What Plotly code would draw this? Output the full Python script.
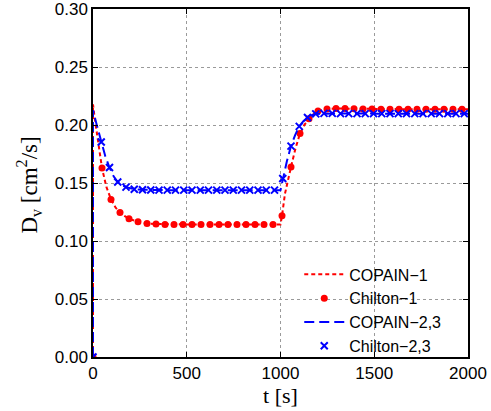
import plotly.graph_objects as go

# ---- data ----
copain1_t = [0, 0, 10, 18, 32, 48, 71, 96, 120, 144, 170, 192, 240, 288, 336, 400, 500, 1000,
             1008, 1024, 1042, 1056, 1080, 1104, 1128, 1152, 1176, 1200, 1248, 1296, 1400, 1500, 1700, 2000]
copain1_v = [0.0, 0.218, 0.205, 0.196, 0.180, 0.163, 0.147, 0.136, 0.129, 0.1247, 0.1215, 0.1193, 0.1167,
             0.1153, 0.1148, 0.1145, 0.1144, 0.1144,
             0.1218, 0.141, 0.155, 0.164, 0.180, 0.1928, 0.2005, 0.2055, 0.2095, 0.2123, 0.2140, 0.2144,
             0.2142, 0.2139, 0.2138, 0.2138]

chilton1_t = [0, 48, 96, 144, 192, 240, 288, 336, 384, 432, 480, 528, 576, 624, 672, 720, 768, 816, 864,
              912, 960, 1008, 1056, 1104, 1152, 1200, 1248, 1296, 1344, 1392, 1440, 1488, 1536, 1584,
              1632, 1680, 1728, 1776, 1824, 1872, 1920, 1968]
chilton1_v = [0.0, 0.163, 0.136, 0.1247, 0.1193, 0.1167, 0.1153, 0.1147, 0.1144, 0.1144, 0.1144, 0.1144,
              0.1144, 0.1144, 0.1144, 0.1144, 0.1144, 0.1144, 0.1144, 0.1144, 0.1144,
              0.1218, 0.164, 0.1928, 0.2055, 0.2123, 0.2140, 0.2144, 0.2144, 0.2142, 0.2140, 0.2139,
              0.2138, 0.2138, 0.2138, 0.2138, 0.2138, 0.2138, 0.2138, 0.2138, 0.2138, 0.2138]

copain23_t = [0, 0, 18, 44, 66, 88, 110, 132, 154, 176, 220, 264, 308, 400, 1000,
              1012, 1034, 1056, 1078, 1100, 1122, 1144, 1166, 1188, 1232, 1300, 1500, 2000]
copain23_v = [0.0, 0.213, 0.2014, 0.1856, 0.173, 0.1635, 0.156, 0.151, 0.1483, 0.1466, 0.1448, 0.1443,
              0.1441, 0.1440, 0.1440,
              0.1540, 0.1690, 0.1820, 0.1915, 0.1990, 0.2035, 0.2066, 0.2086, 0.2098, 0.2102, 0.2102,
              0.2100, 0.2100]

chilton23_t = [0, 44, 88, 132, 176, 220, 264, 308, 352, 396, 440, 484, 528, 572, 616, 660, 704, 748,
               792, 836, 880, 924, 968, 1012, 1056, 1100, 1144, 1188, 1232, 1276, 1320, 1364, 1408,
               1452, 1496, 1540, 1584, 1628, 1672, 1716, 1760, 1804, 1848, 1892, 1936, 1980]
chilton23_v = [0.0, 0.1856, 0.1635, 0.151, 0.1466, 0.1448, 0.1443, 0.1441,
               0.1440, 0.1440, 0.1440, 0.1440, 0.1440, 0.1440, 0.1440, 0.1440, 0.1440, 0.1440,
               0.1440, 0.1440, 0.1440, 0.1440, 0.1440,
               0.1540, 0.1820, 0.1990, 0.2066, 0.2098, 0.2102, 0.2102,
               0.2100, 0.2100, 0.2100, 0.2100, 0.2100, 0.2100, 0.2100, 0.2100, 0.2100, 0.2100,
               0.2100, 0.2100, 0.2100, 0.2100, 0.2100, 0.2100]

x_ticks = [0, 500, 1000, 1500, 2000]
y_ticks = [0.00, 0.05, 0.10, 0.15, 0.20, 0.25, 0.30]

RED = "#ff0000"
BLUE = "#0000ff"
SANS = "Liberation Sans, Arial, sans-serif"
SERIF = "Liberation Serif, Times New Roman, serif"

fig = go.Figure()
fig.add_trace(go.Scatter(x=copain1_t, y=copain1_v, mode="lines", name="COPAIN−1",
                         line=dict(color=RED, width=2, dash="4px,3px")))
fig.add_trace(go.Scatter(x=chilton1_t, y=chilton1_v, mode="markers", name="Chilton−1",
                         marker=dict(color=RED, size=7, symbol="circle")))
fig.add_trace(go.Scatter(x=copain23_t, y=copain23_v, mode="lines", name="COPAIN−2,3",
                         line=dict(color=BLUE, width=2, dash="10px,5px")))
fig.add_trace(go.Scatter(x=chilton23_t, y=chilton23_v, mode="markers", name="Chilton−2,3",
                         marker=dict(color=BLUE, size=7, symbol="x-thin-open",
                                     line=dict(color=BLUE, width=2))))

axis_common = dict(
    showline=True, linecolor="black", linewidth=1.5, mirror="allticks",
    ticks="inside", ticklen=5, tickwidth=1, tickcolor="black",
    showgrid=True, gridcolor="#9a9a9a", griddash="dot", gridwidth=1,
    zeroline=False, tickfont=dict(family=SANS, size=17, color="black"),
)

fig.update_xaxes(range=[0, 2000], tickvals=x_ticks, ticktext=[str(v) for v in x_ticks],
                 title=dict(text="t [s]", font=dict(family=SERIF, size=22, color="black"), standoff=5),
                 **axis_common)
fig.update_yaxes(range=[0, 0.3003], tickvals=y_ticks, ticktext=[f"{v:.2f}" for v in y_ticks],
                 **axis_common)

fig.add_annotation(text="D<sub>v</sub> [cm<sup>2</sup>/s]", textangle=-90,
                   xref="paper", yref="paper", x=-0.172, y=0.494, xanchor="center", yanchor="middle",
                   showarrow=False, font=dict(family=SERIF, size=23, color="black"))

fig.add_shape(type="rect", xref="paper", yref="paper", x0=0.499, x1=1.0, y0=0.0, y1=0.264,
              fillcolor="white", line=dict(width=0), layer="between")

fig.update_layout(
    width=491, height=411,
    margin=dict(l=93, r=23, t=9, b=54, autoexpand=False),
    paper_bgcolor="white", plot_bgcolor="white",
    showlegend=True,
    legend=dict(x=0.55, y=0.286, xanchor="left", yanchor="top",
                bgcolor="rgba(255,255,255,0)", borderwidth=0,
                font=dict(family=SANS, size=16, color="black"),
                itemwidth=40, tracegroupgap=0),
)

fig.write_html("out.html", config={"displayModeBar": False},
               post_script="document.body.style.margin='0';")
